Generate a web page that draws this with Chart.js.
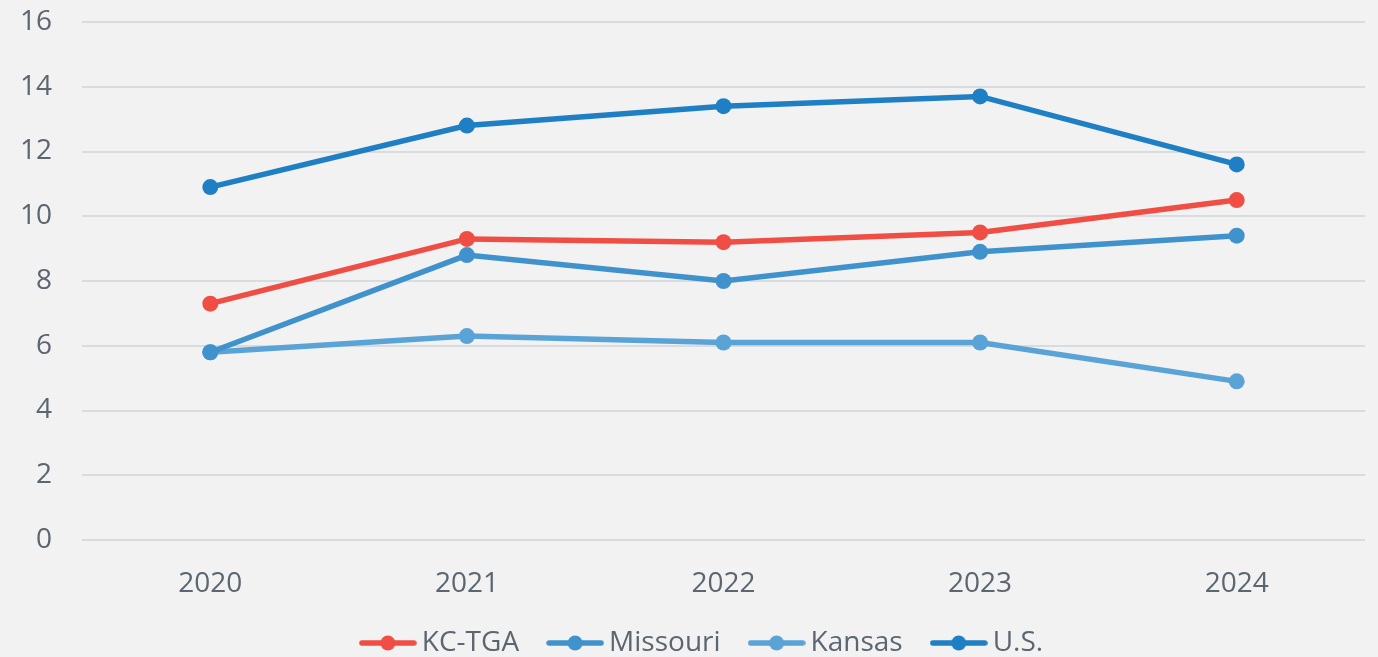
<!DOCTYPE html>
<html>
<head>
<meta charset="utf-8">
<script src="https://cdn.jsdelivr.net/npm/chart.js@4/dist/chart.umd.min.js"></script>
<style>
  html, body { margin: 0; padding: 0; background: #f2f2f2; overflow: hidden; }
  #wrap { width: 1378px; height: 657px; }
</style>
</head>
<body>
<div id="wrap"><canvas id="chart" width="1378" height="657"></canvas></div>
<script>
// data
const years = ['2020', '2021', '2022', '2023', '2024'];
const kcTga = [7.3, 9.3, 9.2, 9.5, 10.5];
const missouri = [5.8, 8.8, 8.0, 8.9, 9.4];
const kansas = [5.8, 6.3, 6.1, 6.1, 4.9];
const us = [10.9, 12.8, 13.4, 13.7, 11.6];

const names = ['KC-TGA', 'Missouri', 'Kansas', 'U.S.'];
const colors = ['#f04e45', '#4092cd', '#5aa3d6', '#1f7fc4'];
const textColor = '#5b6670';

// legend marker: line with a dot in the middle
function legendMark(color) {
  const c = document.createElement('canvas');
  c.width = 58;
  c.height = 18;
  const ctx = c.getContext('2d');
  ctx.strokeStyle = color;
  ctx.lineWidth = 5.5;
  ctx.lineCap = 'round';
  ctx.beginPath();
  ctx.moveTo(3, 9);
  ctx.lineTo(55, 9);
  ctx.stroke();
  ctx.fillStyle = color;
  ctx.beginPath();
  ctx.arc(29, 9, 7.5, 0, Math.PI * 2);
  ctx.fill();
  return c;
}

const series = [kcTga, missouri, kansas, us];
const datasets = series.map((vals, i) => ({
  label: names[i],
  data: vals,
  borderColor: colors[i],
  backgroundColor: colors[i],
  borderWidth: 5.5,
  pointRadius: 8,
  pointBorderWidth: 0,
  pointHoverRadius: 8,
  tension: 0
}));

Chart.defaults.font.family = '"Open Sans", sans-serif';
Chart.defaults.color = textColor;

// the legend in the picture sits a little right of centre
const legendShift = {
  id: 'legendShift',
  afterLayout(chart) {
    chart.legend.left += 23;
    chart.legend.right += 23;
  }
};

new Chart(document.getElementById('chart'), {
  type: 'line',
  data: { labels: years, datasets: datasets },
  plugins: [legendShift],
  options: {
    responsive: false,
    animation: false,
    layout: { padding: { top: 22, right: 13, left: 0, bottom: -10 } },
    scales: {
      x: {
        offset: true,
        grid: { display: false },
        border: { display: false },
        ticks: { font: { size: 28 }, padding: 19 },
        afterFit: (s) => { s.height = 53; }
      },
      y: {
        min: 0,
        max: 16,
        grid: { color: '#d9dcdf', lineWidth: 2, drawTicks: false },
        border: { display: false },
        ticks: { stepSize: 2, font: { size: 28 }, padding: 30 },
        afterFit: (s) => {
          s.width = 82;
          s.paddingTop = 0;
          s.paddingBottom = 0;
        }
      }
    },
    plugins: {
      tooltip: { enabled: false },
      legend: {
        position: 'bottom',
        labels: {
          font: { size: 28 },
          color: textColor,
          usePointStyle: true,
          pointStyleWidth: 40,
          padding: 36,
          generateLabels: (chart) => {
            const items = Chart.defaults.plugins.legend.labels.generateLabels(chart);
            items.forEach((it, i) => { it.pointStyle = legendMark(colors[i]); });
            return items;
          }
        }
      }
    }
  }
});
</script>
</body>
</html>
